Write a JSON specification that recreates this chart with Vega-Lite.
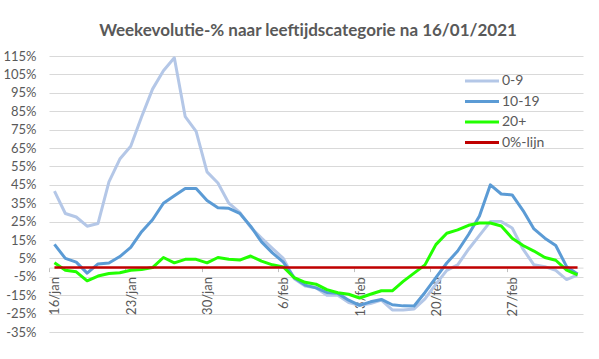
{
  "$schema": "https://vega.github.io/schema/vega-lite/v6.json",
  "width": 534,
  "height": 276,
  "autosize": {"type": "none"},
  "padding": {"left": 49, "top": 56, "right": 16, "bottom": 27},
  "background": "white",
  "title": {"text": "Weekevolutie-% naar leeftijdscategorie  na 16/01/2021", "font": "Lato", "fontSize": 17, "fontWeight": "bold", "color": "#595959", "anchor": "middle", "dx": -8, "baseline": "alphabetic", "offset": -3},
  "config": {"view": {"stroke": null}},
  "data": {"values": [
    {"d": "16/jan", "0-9": 41.6, "10-19": 12.6, "20+": 2.6, "0%-lijn": 0},
    {"d": "17/jan", "0-9": 29.4, "10-19": 5, "20+": -1.4, "0%-lijn": 0},
    {"d": "18/jan", "0-9": 27.5, "10-19": 3, "20+": -2.3, "0%-lijn": 0},
    {"d": "19/jan", "0-9": 22.5, "10-19": -3, "20+": -7.2, "0%-lijn": 0},
    {"d": "20/jan", "0-9": 24, "10-19": 2, "20+": -4.6, "0%-lijn": 0},
    {"d": "21/jan", "0-9": 46.6, "10-19": 2.5, "20+": -3.2, "0%-lijn": 0},
    {"d": "22/jan", "0-9": 59, "10-19": 6, "20+": -2.8, "0%-lijn": 0},
    {"d": "23/jan", "0-9": 66, "10-19": 11, "20+": -1.4, "0%-lijn": 0},
    {"d": "24/jan", "0-9": 82, "10-19": 19.5, "20+": -1, "0%-lijn": 0},
    {"d": "25/jan", "0-9": 97, "10-19": 26, "20+": 0, "0%-lijn": 0},
    {"d": "26/jan", "0-9": 107, "10-19": 35, "20+": 5.5, "0%-lijn": 0},
    {"d": "27/jan", "0-9": 114, "10-19": 39, "20+": 2.6, "0%-lijn": 0},
    {"d": "28/jan", "0-9": 82, "10-19": 43, "20+": 4.5, "0%-lijn": 0},
    {"d": "29/jan", "0-9": 74, "10-19": 43, "20+": 4.5, "0%-lijn": 0},
    {"d": "30/jan", "0-9": 52, "10-19": 36.5, "20+": 2.6, "0%-lijn": 0},
    {"d": "31/jan", "0-9": 46, "10-19": 32.5, "20+": 5.5, "0%-lijn": 0},
    {"d": "1/feb", "0-9": 35, "10-19": 32.2, "20+": 4.5, "0%-lijn": 0},
    {"d": "2/feb", "0-9": 30, "10-19": 29.5, "20+": 4.1, "0%-lijn": 0},
    {"d": "3/feb", "0-9": 22, "10-19": 22.5, "20+": 6.3, "0%-lijn": 0},
    {"d": "4/feb", "0-9": 16, "10-19": 14, "20+": 3.5, "0%-lijn": 0},
    {"d": "5/feb", "0-9": 10.5, "10-19": 8, "20+": 1.5, "0%-lijn": 0},
    {"d": "6/feb", "0-9": 5, "10-19": 3, "20+": 0.3, "0%-lijn": 0},
    {"d": "7/feb", "0-9": -6, "10-19": -5.5, "20+": -5.5, "0%-lijn": 0},
    {"d": "8/feb", "0-9": -10, "10-19": -9.5, "20+": -8, "0%-lijn": 0},
    {"d": "9/feb", "0-9": -11, "10-19": -11, "20+": -9, "0%-lijn": 0},
    {"d": "10/feb", "0-9": -15, "10-19": -13.5, "20+": -12, "0%-lijn": 0},
    {"d": "11/feb", "0-9": -15, "10-19": -14, "20+": -13.7, "0%-lijn": 0},
    {"d": "12/feb", "0-9": -19, "10-19": -17.7, "20+": -14.5, "0%-lijn": 0},
    {"d": "13/feb", "0-9": -20.5, "10-19": -20.5, "20+": -16.5, "0%-lijn": 0},
    {"d": "14/feb", "0-9": -19.5, "10-19": -18.6, "20+": -14.5, "0%-lijn": 0},
    {"d": "15/feb", "0-9": -17.7, "10-19": -17.3, "20+": -12.6, "0%-lijn": 0},
    {"d": "16/feb", "0-9": -23, "10-19": -20.2, "20+": -12.6, "0%-lijn": 0},
    {"d": "17/feb", "0-9": -23, "10-19": -20.8, "20+": -7.5, "0%-lijn": 0},
    {"d": "18/feb", "0-9": -22.5, "10-19": -20.9, "20+": -3, "0%-lijn": 0},
    {"d": "19/feb", "0-9": -17, "10-19": -13.5, "20+": 1.5, "0%-lijn": 0},
    {"d": "20/feb", "0-9": -9, "10-19": -5.5, "20+": 12.5, "0%-lijn": 0},
    {"d": "21/feb", "0-9": -1.5, "10-19": 2.5, "20+": 18.7, "0%-lijn": 0},
    {"d": "22/feb", "0-9": 1.5, "10-19": 9, "20+": 20.5, "0%-lijn": 0},
    {"d": "23/feb", "0-9": 10, "10-19": 18, "20+": 23, "0%-lijn": 0},
    {"d": "24/feb", "0-9": 17.5, "10-19": 28, "20+": 24.2, "0%-lijn": 0},
    {"d": "25/feb", "0-9": 25, "10-19": 45, "20+": 24.2, "0%-lijn": 0},
    {"d": "26/feb", "0-9": 25, "10-19": 40, "20+": 22.6, "0%-lijn": 0},
    {"d": "27/feb", "0-9": 21.5, "10-19": 39.5, "20+": 16, "0%-lijn": 0},
    {"d": "28/feb", "0-9": 10, "10-19": 31, "20+": 12, "0%-lijn": 0},
    {"d": "1/mar", "0-9": 1.5, "10-19": 21, "20+": 9, "0%-lijn": 0},
    {"d": "2/mar", "0-9": 0.5, "10-19": 16, "20+": 5.5, "0%-lijn": 0},
    {"d": "3/mar", "0-9": -1.5, "10-19": 12, "20+": 4, "0%-lijn": 0},
    {"d": "4/mar", "0-9": -6.5, "10-19": 0.5, "20+": -1.4, "0%-lijn": 0},
    {"d": "5/mar", "0-9": -4, "10-19": -3.5, "20+": -4, "0%-lijn": 0}
  ]},
  "transform": [{"fold": ["0-9", "10-19", "20+", "0%-lijn"], "as": ["key", "value"]}],
  "encoding": {
    "x": {"field": "d", "type": "ordinal", "sort": null,
      "scale": {"type": "point", "padding": 0.5},
      "axis": {"values": ["16/jan", "23/jan", "30/jan", "6/feb", "13/feb", "20/feb", "27/feb"],
        "title": null, "grid": false, "labelAngle": -90, "offset": -64.4,
        "domainColor": "#D9D9D9", "tickColor": "#BFBFBF", "tickSize": 4, "tickOffset": -5.45,
        "labelOffset": 6, "labelPadding": 5, "labelFont": "Lato", "labelFontSize": 13, "labelColor": "#595959"}},
    "y": {"field": "value", "type": "quantitative",
      "scale": {"domain": [-35, 115], "nice": false, "zero": false},
      "axis": {"values": [-35, -25, -15, -5, 5, 15, 25, 35, 45, 55, 65, 75, 85, 95, 105, 115],
        "labelExpr": "datum.value + '%'", "title": null, "grid": true, "gridColor": "#D9D9D9",
        "domain": false, "ticks": false, "labelPadding": 13,
        "labelFont": "Lato", "labelFontSize": 13, "labelColor": "#595959"}},
    "color": {"field": "key", "type": "nominal",
      "scale": {"domain": ["0-9", "10-19", "20+", "0%-lijn"], "range": ["#B4C7E7", "#5B9BD5", "#22FF00", "#C00000"]},
      "legend": {"orient": "none", "legendX": 426, "legendY": 18, "title": null,
        "symbolType": "M-3.4,0H3.4", "symbolSize": 100, "symbolStrokeWidth": 3,
        "labelFont": "Lato", "labelFontSize": 14, "labelColor": "#595959", "labelOffset": 13, "rowPadding": 6.5}}
  },
  "layer": [
    {"transform": [{"filter": "datum.key !== '0%-lijn'"}],
     "mark": {"type": "line", "strokeWidth": 3, "strokeJoin": "round"}},
    {"transform": [{"filter": "datum.key === '0%-lijn'"}],
     "mark": {"type": "line", "strokeWidth": 2.5}}
  ]
}
